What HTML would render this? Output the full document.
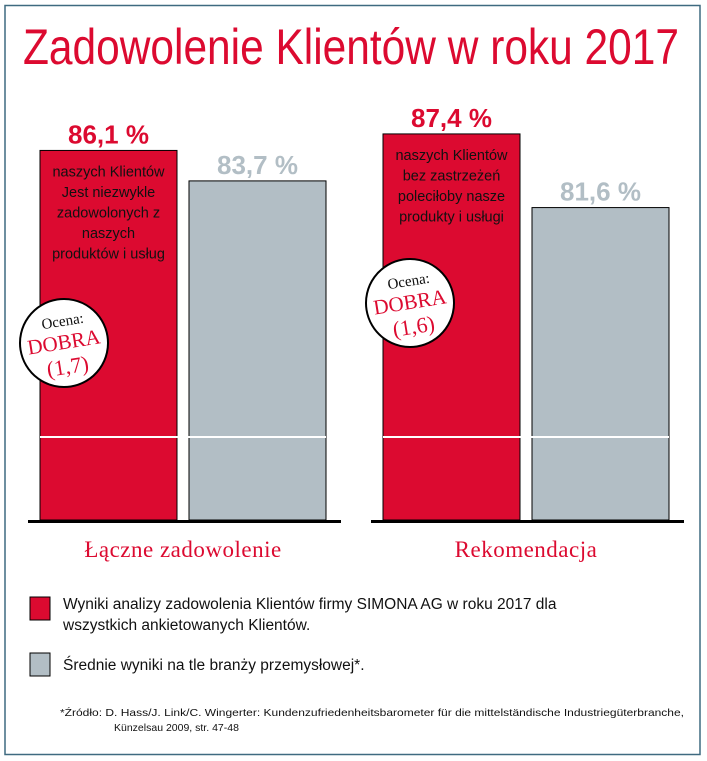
<!DOCTYPE html>
<html><head><meta charset="utf-8">
<style>
body{margin:0;background:#fff;}
svg{display:block;}
</style></head>
<body>
<svg width="707" height="761" viewBox="0 0 707 761" xmlns="http://www.w3.org/2000/svg">
<rect x="5" y="5.5" width="695" height="749" fill="#fff" stroke="#3f6a80" stroke-width="1.5"/>
<text x="351" y="64" text-anchor="middle" font-family="'Liberation Sans Narrow','Liberation Sans',sans-serif" font-size="50" fill="#dc0a30" textLength="656" lengthAdjust="spacingAndGlyphs">Zadowolenie Klientów w roku 2017</text>
<g id="bars"></g>
<g id="circles"></g>

<rect x="30" y="597" width="20" height="23" fill="#dc0a30" stroke="#000" stroke-width="1"/>
<text x="63" y="609" font-family="'Liberation Sans',sans-serif" font-size="15.5" fill="#111">Wyniki analizy zadowolenia Klientów firmy SIMONA AG w roku 2017 dla</text>
<text x="63" y="630" font-family="'Liberation Sans',sans-serif" font-size="15.5" fill="#111">wszystkich ankietowanych Klientów.</text>
<rect x="30" y="653" width="20" height="23" fill="#b2bec5" stroke="#000" stroke-width="1"/>
<text x="63" y="670" font-family="'Liberation Sans',sans-serif" font-size="15.5" fill="#111">Średnie wyniki na tle branży przemysłowej*.</text>
<text x="60" y="716" font-family="'Liberation Sans',sans-serif" font-size="10.5" fill="#111" textLength="624" lengthAdjust="spacingAndGlyphs">*Źródło:  D. Hass/J. Link/C. Wingerter: Kundenzufriedenheitsbarometer für die mittelständische Industriegüterbranche,</text>
<text x="114" y="731" font-family="'Liberation Sans',sans-serif" font-size="10.5" fill="#111">Künzelsau 2009, str. 47-48</text>
</svg>
<script>
const categories = ["Łączne zadowolenie", "Rekomendacja"];
const simonaValues = [86.1, 87.4];
const industryValues = [83.7, 81.6];
const simonaLabels = ["86,1 %", "87,4 %"];
const industryLabels = ["83,7 %", "81,6 %"];
const ratingLabels = ["(1,7)", "(1,6)"];
const descriptions = [
  ["naszych Klientów","Jest niezwykle","zadowolonych z","naszych","produktów i usług"],
  ["naszych Klientów","bez zastrzeżeń","poleciłoby nasze","produkty i usługi"]
];

const NS = "http://www.w3.org/2000/svg";
const baseY = 520, baseV = 57, pxPer = 12.7;
function yScale(v){ return baseY - (v - baseV) * pxPer; }
const groupX = [40, 383];
const barW = 137, gap = 12;
function mk(tag, attrs, parent){
  const e = document.createElementNS(NS, tag);
  for (const k in attrs) e.setAttribute(k, attrs[k]);
  parent.appendChild(e);
  return e;
}
const bars = document.getElementById('bars');
const circles = document.getElementById('circles');
categories.forEach((cat, i) => {
  const x0 = groupX[i], x1 = x0 + barW + gap;
  const ys = yScale(simonaValues[i]), yi = yScale(industryValues[i]);
  const r1 = mk('rect', {x:x0, y:ys, width:barW, height:baseY-ys, fill:'#dc0a30', stroke:'#000', 'stroke-width':1}, bars);
  
  
  const r2 = mk('rect', {x:x1, y:yi, width:barW, height:baseY-yi, fill:'#b2bec5', stroke:'#000', 'stroke-width':1}, bars);
  
  
  const wl = mk('line', {x1:x0, x2:x1+barW, y1:437, y2:437, stroke:'#fff', 'stroke-width':2}, bars);
  
  
  const bl = mk('line', {x1:x0-12, x2:x1+barW+15, y1:baseY+1.5, y2:baseY+1.5, stroke:'#000', 'stroke-width':3}, bars);
  
  
  const t1 = mk('text', {x:x0+barW/2, y:ys-7, 'text-anchor':'middle', 'font-family':"'Liberation Sans Narrow','Liberation Sans',sans-serif", 'font-size':26, 'font-weight':'bold', fill:'#dc0a30'}, bars);
  t1.textContent = simonaLabels[i];
  
  
  const t2 = mk('text', {x:x1+barW/2, y:yi-7, 'text-anchor':'middle', 'font-family':"'Liberation Sans Narrow','Liberation Sans',sans-serif", 'font-size':26, 'font-weight':'bold', fill:'#b2bec5'}, bars);
  t2.textContent = industryLabels[i];
  
  
  descriptions[i].forEach((line, j) => {
    const d = mk('text', {x:x0+barW/2, y:ys+26+j*20.5, 'text-anchor':'middle', 'font-family':"'Liberation Sans',sans-serif", 'font-size':14.5, fill:'#111'}, bars);
    d.textContent = line;
    
    
  });
  const c = mk('text', {x:x0+barW+gap/2, y:557, 'text-anchor':'middle', 'font-family':"'Liberation Serif',serif", 'font-size':23, fill:'#dc0a30', 'letter-spacing':'0.5'}, bars);
  c.textContent = cat;
  
  
  // badge
  const cx = i === 0 ? 64 : 410, cy = i === 0 ? 343 : 303;
  const g = mk('g', {transform:'translate(' + cx + ',' + cy + ') rotate(-9)'}, circles);
  
  
  mk('circle', {cx:0, cy:0, r:44, fill:'#fff', stroke:'#000', 'stroke-width':2}, g);
  const a = mk('text', {x:2, y:-17, 'text-anchor':'middle', 'font-family':"'Liberation Serif',serif", 'font-size':15, fill:'#111'}, g);
  a.textContent = 'Ocena:';
  const b = mk('text', {x:0, y:6, 'text-anchor':'middle', 'font-family':"'Liberation Serif',serif", 'font-size':21, fill:'#dc0a30'}, g);
  b.textContent = 'DOBRA';
  const r = mk('text', {x:0, y:31, 'text-anchor':'middle', 'font-family':"'Liberation Serif',serif", 'font-size':22, fill:'#dc0a30'}, g);
  r.textContent = ratingLabels[i];
});
</script>
</body></html>
